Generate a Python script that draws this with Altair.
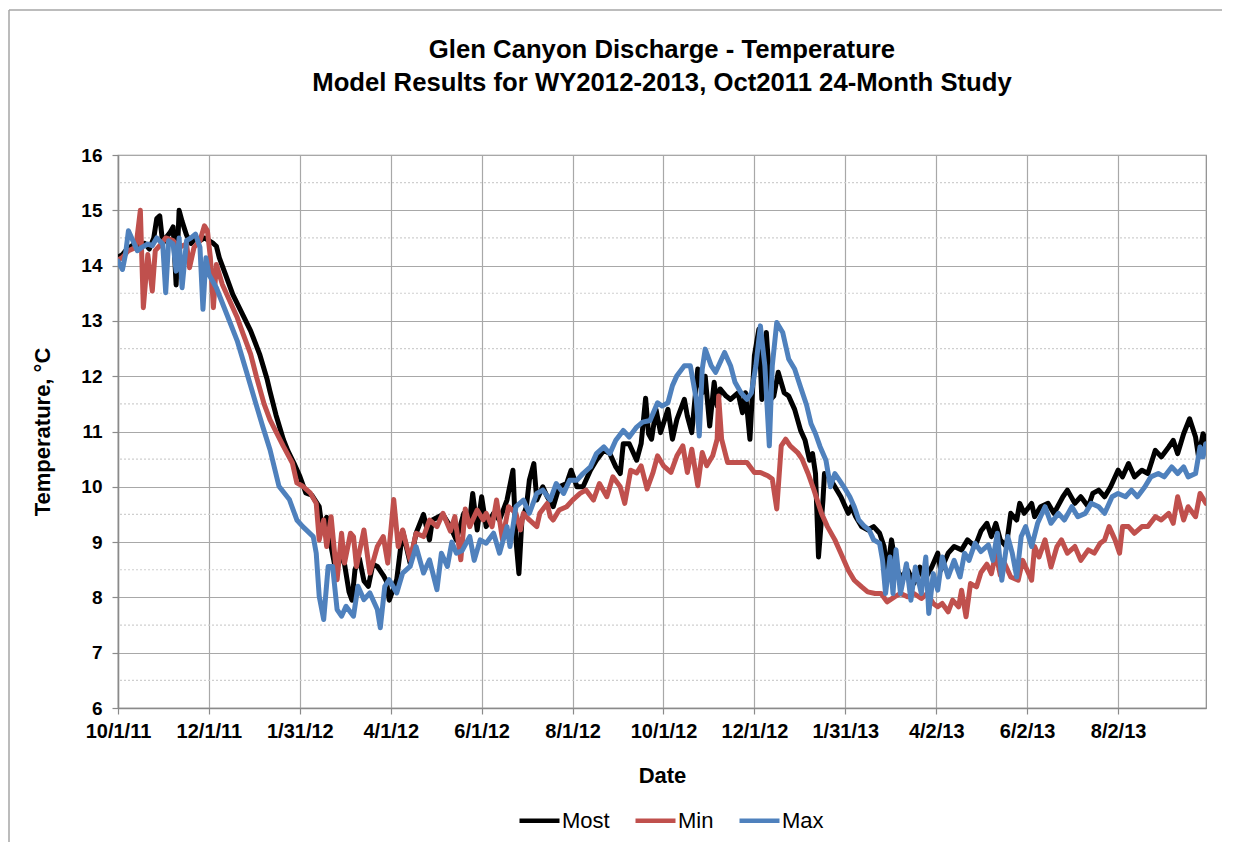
import altair as alt
import pandas as pd

TITLE_LINES = ["Glen Canyon Discharge - Temperature",
               "Model Results for WY2012-2013, Oct2011 24-Month Study"]
SERIES = ["Most", "Min", "Max"]
COLORS = ["#000000", "#C0504D", "#4F81BD"]
START = "2011-10-01"
END = "2013-09-30"
TICK_DATES = ["2011-10-01", "2011-12-01", "2012-01-31", "2012-04-01", "2012-06-01",
              "2012-08-01", "2012-10-01", "2012-12-01", "2013-01-31", "2013-04-02",
              "2013-06-02", "2013-08-02"]
Y_TICKS = [6, 7, 8, 9, 10, 11, 12, 13, 14, 15, 16]
Y_MINOR = [6.5, 7.5, 8.5, 9.5, 10.5, 11.5, 12.5, 13.5, 14.5, 15.5]

# days after 10/1/11
MOST_DAY = [0, 3, 6, 9, 12, 15, 18, 21, 24, 26,
            28, 30, 32, 35, 37, 39, 41, 43, 46, 49,
            52, 55, 58, 61, 64, 66, 68, 72, 77, 83,
            89, 95, 100, 102, 106, 111, 114, 118, 122, 126,
            130, 135, 137, 140, 143, 146, 149, 152, 155, 157,
            159, 162, 165, 168, 171, 174, 178, 180, 182, 187,
            191, 196, 200, 205, 209, 211, 218, 223, 227, 232,
            236, 238, 241, 244, 247, 252, 256, 261, 265, 267,
            269, 271, 274, 276, 279, 281, 285, 288, 292, 296,
            301, 304, 308, 312, 317, 321, 326, 330, 334, 337,
            339, 343, 348, 351, 354, 356, 358, 361, 364, 369,
            372, 375, 380, 382, 385, 389, 392, 394, 397, 400,
            402, 404, 408, 411, 416, 419, 421, 424, 427, 430,
            432, 435, 438, 440, 443, 447, 450, 454, 458, 461,
            464, 466, 468, 470, 473, 474, 477, 481, 485, 490,
            492, 495, 499, 503, 507, 511, 514, 516, 519, 522,
            525, 530, 534, 538, 541, 546, 550, 552, 557, 561,
            566, 570, 575, 579, 583, 586, 589, 592, 596, 599,
            603, 605, 608, 613, 615, 619, 624, 628, 634, 637,
            642, 646, 651, 654, 658, 662, 666, 671, 674, 678,
            682, 687, 691, 696, 700, 705, 708, 711, 715, 719,
            723, 725, 728, 730]
MOST_TEMP = [14.15, 14.2, 14.3, 14.35, 14.4, 14.3, 14.4, 14.3, 14.5, 14.85,
             14.9, 14.4, 14.5, 14.6, 14.7, 13.65, 15.0, 14.8, 14.55, 14.4,
             14.5, 14.45, 14.5, 14.45, 14.4, 14.35, 14.14, 13.85, 13.48, 13.15,
             12.82, 12.4, 11.95, 11.72, 11.3, 10.85, 10.65, 10.43, 10.19, 9.89,
             9.85, 9.64, 9.25, 9.45, 8.92, 8.5, 8.8, 8.6, 8.1, 7.95,
             8.5, 8.7, 8.3, 8.2, 8.6, 8.56, 8.4, 8.3, 7.95, 8.32,
             9.2, 8.62, 9.16, 9.5, 9.04, 9.4, 9.5, 9.28, 9.04, 9.52,
             9.4, 9.88, 9.22, 9.82, 9.28, 9.52, 9.4, 9.76, 10.3, 9.04,
             8.43, 9.4, 9.64, 10.12, 10.42, 9.76, 10.0, 9.82, 9.64, 10.0,
             10.06, 10.3, 10.0, 10.0, 10.3, 10.48, 10.66, 10.6, 10.36, 10.24,
             10.78, 10.78, 10.48, 10.78, 11.6, 10.96, 10.86, 11.4, 10.98, 11.4,
             10.86, 11.22, 11.58, 11.28, 10.98, 12.13, 11.7, 12.0, 11.1, 11.89,
             11.46, 11.77, 11.64, 11.58, 11.7, 11.34, 11.7, 10.86, 12.37, 12.85,
             11.58, 12.79, 11.58, 11.64, 12.07, 11.7, 11.64, 11.4, 11.02, 10.84,
             10.48, 10.6, 10.24, 8.73, 9.76, 10.24, 10.18, 10.0, 9.82, 9.52,
             9.64, 9.46, 9.28, 9.22, 9.28, 9.16, 8.92, 8.43, 9.04, 8.55,
             8.37, 8.49, 8.25, 8.55, 8.31, 8.55, 8.8, 8.49, 8.8, 8.92,
             8.86, 9.04, 8.92, 9.2, 9.34, 9.1, 9.34, 9.04, 8.92, 9.52,
             9.4, 9.7, 9.52, 9.7, 9.46, 9.64, 9.7, 9.52, 9.82, 9.94,
             9.7, 9.82, 9.64, 9.88, 9.94, 9.82, 10.0, 10.3, 10.18, 10.42,
             10.18, 10.3, 10.24, 10.66, 10.54, 10.72, 10.84, 10.6, 10.96, 11.23,
             10.9, 10.54, 10.96, 10.84]

MIN_DAY = [0, 3, 7, 12, 15, 17, 20, 23, 25, 29,
           32, 37, 41, 46, 48, 51, 55, 58, 60, 62,
           64, 66, 70, 75, 80, 84, 89, 93, 98, 102,
           111, 117, 120, 124, 129, 133, 135, 138, 140, 143,
           147, 150, 152, 156, 158, 160, 165, 169, 174, 178,
           181, 185, 188, 191, 196, 200, 205, 209, 214, 218,
           223, 226, 230, 233, 236, 241, 245, 247, 251, 254,
           258, 262, 267, 270, 272, 276, 281, 283, 288, 290,
           292, 296, 301, 305, 310, 314, 319, 323, 328, 332,
           337, 340, 344, 348, 351, 355, 359, 362, 366, 371,
           375, 379, 382, 385, 389, 392, 395, 399, 402, 403,
           405, 409, 413, 418, 422, 427, 431, 436, 439, 442,
           445, 448, 451, 456, 459, 463, 467, 472, 476, 481,
           485, 490, 494, 499, 503, 508, 512, 516, 521, 525,
           530, 534, 539, 543, 547, 550, 553, 557, 560, 564,
           566, 569, 572, 576, 579, 583, 586, 589, 592, 595,
           599, 604, 607, 610, 613, 615, 618, 622, 626, 630,
           633, 637, 642, 646, 651, 655, 659, 662, 665, 669,
           672, 674, 678, 682, 687, 691, 696, 700, 705, 708,
           711, 715, 718, 723, 726, 730]
MIN_TEMP = [14.1, 14.15, 14.27, 14.33, 15.0, 13.24, 14.2, 13.54, 14.27, 14.39,
            14.5, 14.45, 14.33, 14.39, 13.96, 14.33, 14.45, 14.72, 14.63, 14.14,
            13.24, 14.02, 13.66, 13.36, 13.06, 12.76, 12.4, 11.98, 11.5, 11.21,
            10.73, 10.43, 10.07, 10.01, 9.89, 9.7, 9.04, 9.4, 8.92, 9.46,
            8.32, 9.16, 8.62, 9.16, 9.1, 8.56, 9.22, 8.44, 8.92, 9.1,
            8.62, 9.77, 8.92, 9.22, 8.68, 9.16, 9.1, 9.4, 9.28, 9.52,
            9.2, 9.46, 8.68, 9.6, 9.28, 9.58, 9.4, 9.52, 9.28, 9.76,
            9.04, 9.64, 9.52, 9.22, 9.52, 9.4, 9.28, 9.52, 9.7, 9.46,
            9.4, 9.58, 9.64, 9.76, 9.88, 9.94, 9.76, 10.06, 9.82, 10.18,
            10.0, 9.7, 10.3, 10.25, 10.38, 9.96, 10.26, 10.56, 10.38, 10.26,
            10.56, 10.74, 10.26, 10.68, 10.02, 10.62, 10.38, 10.56, 10.86, 11.64,
            10.86, 10.44, 10.44, 10.44, 10.44, 10.26, 10.26, 10.2, 10.14, 9.6,
            10.74, 10.86, 10.74, 10.62, 10.5, 10.24, 9.94, 9.52, 9.28, 9.04,
            8.8, 8.49, 8.31, 8.19, 8.1, 8.07, 8.07, 7.92, 8.01, 8.07,
            8.01, 8.07, 7.98, 8.07, 7.89, 7.83, 7.89, 7.74, 7.95, 7.83,
            8.13, 7.65, 8.25, 8.19, 8.45, 8.6, 8.43, 8.8, 8.4, 8.61,
            8.37, 8.31, 8.67, 8.49, 8.31, 8.92, 8.73, 9.04, 8.55, 8.92,
            9.04, 8.8, 8.92, 8.67, 8.86, 8.8, 8.98, 9.04, 9.28, 9.04,
            8.8, 9.28, 9.28, 9.16, 9.28, 9.28, 9.46, 9.4, 9.52, 9.34,
            9.82, 9.4, 9.64, 9.46, 9.88, 9.7]

MAX_DAY = [0, 3, 5, 7, 10, 13, 16, 20, 23, 26,
           30, 32, 34, 37, 39, 41, 43, 46, 49, 52,
           55, 57, 59, 61, 66, 73, 80, 86, 92, 97,
           102, 108, 115, 120, 124, 131, 133, 135, 138, 141,
           144, 147, 150, 153, 158, 161, 165, 169, 174, 176,
           179, 182, 187, 191, 196, 200, 205, 209, 214, 217,
           221, 224, 227, 231, 236, 239, 243, 247, 252, 256,
           261, 263, 267, 272, 276, 281, 285, 290, 294, 299,
           303, 308, 312, 317, 321, 326, 330, 334, 339, 343,
           348, 352, 357, 362, 365, 369, 372, 375, 380, 384,
           388, 390, 392, 394, 398, 401, 404, 407, 411, 414,
           418, 422, 425, 428, 431, 434, 437, 439, 442, 446,
           450, 454, 458, 462, 465, 468, 471, 475, 478, 481,
           484, 487, 491, 494, 497, 501, 504, 507, 511, 513,
           515, 518, 520, 522, 525, 529, 532, 535, 539, 542,
           544, 547, 550, 553, 557, 561, 565, 568, 571, 575,
           579, 584, 587, 590, 593, 597, 600, 603, 606, 609,
           613, 617, 622, 626, 631, 635, 640, 644, 649, 653,
           658, 662, 667, 671, 676, 680, 684, 689, 693, 698,
           702, 707, 711, 715, 718, 723, 726, 728, 730]
MAX_TEMP = [14.08, 13.93, 14.2, 14.63, 14.45, 14.27, 14.33, 14.39, 14.36, 14.5,
            14.39, 13.51, 14.45, 14.39, 13.9, 14.5, 13.6, 14.45, 14.5, 14.57,
            14.33, 13.21, 14.14, 13.84, 13.6, 13.12, 12.64, 12.1, 11.55, 11.1,
            10.67, 10.01, 9.77, 9.4, 9.28, 9.1, 8.8, 8.02, 7.6, 8.56,
            8.56, 7.78, 7.66, 7.84, 7.66, 8.2, 7.96, 8.08, 7.78, 7.45,
            8.2, 8.32, 8.08, 8.44, 8.56, 8.92, 8.44, 8.68, 8.14, 8.8,
            8.56, 9.0, 8.8, 8.85, 9.1, 8.67, 9.04, 8.98, 9.16, 8.8,
            9.28, 8.92, 9.64, 9.76, 9.52, 9.88, 9.94, 9.76, 10.06, 9.88,
            10.12, 10.12, 10.24, 10.36, 10.6, 10.72, 10.6, 10.84, 11.02, 10.9,
            11.08, 11.17, 11.2, 11.52, 11.46, 11.52, 11.83, 12.01, 12.19, 12.19,
            11.58, 10.92, 12.13, 12.49, 12.19, 12.07, 12.25, 12.43, 12.19, 11.89,
            11.7, 11.58, 11.7, 12.19, 12.91, 12.19, 10.74, 12.19, 12.97, 12.79,
            12.31, 12.13, 11.8, 11.48, 11.14, 10.96, 10.73, 10.48, 10.0, 10.24,
            10.12, 10.0, 9.82, 9.64, 9.4, 9.28, 9.22, 9.04, 8.98, 8.67,
            8.07, 8.73, 8.07, 8.86, 8.07, 8.61, 7.95, 8.55, 8.07, 8.73,
            7.71, 8.43, 8.13, 8.73, 8.37, 8.67, 8.37, 8.8, 8.67, 8.98,
            8.83, 8.95, 8.67, 9.16, 8.31, 9.1, 8.8, 8.37, 9.1, 9.28,
            8.92, 9.34, 9.64, 9.34, 9.52, 9.4, 9.64, 9.46, 9.52, 9.7,
            9.64, 9.52, 9.82, 9.88, 9.82, 9.94, 9.82, 10.0, 10.18, 10.24,
            10.18, 10.36, 10.24, 10.36, 10.18, 10.24, 10.72, 10.54, 10.78]

FONT = "Liberation Sans"
AXIS_GRAY = "#8a8a8a"
GRID_GRAY = "#a8a8a8"
MINOR_GRAY = "#cfcfcf"
FRAME_GRAY = "#a6a6a6"


def ms(s):
    return int(pd.Timestamp(s, tz="UTC").timestamp() * 1000)


def series_frame(days, temps, name):
    assert len(days) == len(temps), name
    dates = (pd.Timestamp(START) + pd.to_timedelta(days, unit="D")).strftime("%Y-%m-%d")
    return pd.DataFrame({"date": list(dates), "temp": temps, "series": name})


data = pd.concat([
    series_frame(MOST_DAY, MOST_TEMP, SERIES[0]),
    series_frame(MIN_DAY, MIN_TEMP, SERIES[1]),
    series_frame(MAX_DAY, MAX_TEMP, SERIES[2]),
], ignore_index=True)

x_enc = alt.X(
    "date:T",
    scale=alt.Scale(type="utc", domain=[ms(START), ms(END)], nice=False),
    axis=alt.Axis(
        values=[ms(d) for d in TICK_DATES],
        labelExpr="utcFormat(datum.value, '%-m/%-d/%y')",
        title="Date", grid=True, gridColor=GRID_GRAY, gridWidth=1.2,
        tickSize=6, labelPadding=7, titlePadding=24,
        labelFontSize=20, labelFontWeight="bold", labelAngle=0,
        labelFlush=False, labelOverlap=False,
        titleFontSize=22, titleFontWeight="bold",
    ),
)
y_enc = alt.Y(
    "temp:Q",
    scale=alt.Scale(domain=[6, 16], nice=False, zero=False),
    axis=alt.Axis(
        values=Y_TICKS, title="Temperature, °C", grid=True,
        gridColor=GRID_GRAY, gridWidth=1.2, tickSize=6, labelPadding=10,
        titlePadding=26, labelFontSize=19, labelFontWeight="bold",
        titleFontSize=22, titleFontWeight="bold",
    ),
)

# outer chart-area frame (decoration only): top edge and left edge
frame_df = pd.DataFrame({"k": [0]})
frame_top = alt.Chart(frame_df).mark_rule(color=FRAME_GRAY, strokeWidth=1.5).encode(
    x=alt.value(-109), x2=alt.value(1104), y=alt.value(-145)
)
frame_left = alt.Chart(frame_df).mark_rule(color=FRAME_GRAY, strokeWidth=1.5).encode(
    x=alt.value(-109), y=alt.value(-145), y2=alt.value(760)
)

minor = alt.Chart(pd.DataFrame({"temp": Y_MINOR})).mark_rule(
    color=MINOR_GRAY, strokeDash=[2, 2], strokeWidth=1.2
).encode(y=y_enc)

lines = alt.Chart(data).mark_line(
    strokeWidth=5, strokeJoin="round", strokeCap="round", clip=True
).encode(
    x=x_enc,
    y=y_enc,
    color=alt.Color(
        "series:N",
        scale=alt.Scale(domain=SERIES, range=COLORS),
        title=None,
        legend=alt.Legend(
            orient="none", legendX=399, legendY=643, direction="horizontal",
            symbolType="stroke", symbolSize=1600, symbolStrokeWidth=4.5,
            labelFontSize=22, labelFont=FONT, labelColor="#000000",
            labelOffset=0, columnPadding=16,
        ),
    ),
)

# the frame rules extend the content bounds up to y=-145.75, so the title
# offset is measured from there
chart = alt.layer(frame_top, frame_left, minor, lines).properties(
    width=1088,
    height=553,
    title=alt.TitleParams(
        TITLE_LINES, fontSize=25.7, fontWeight="bold", font=FONT, color="#000000",
        anchor="middle", frame="group", offset=-87, lineHeight=33,
    ),
    autosize=alt.AutoSizeParams(type="none"),
    padding={"left": 110, "top": 147, "right": 24, "bottom": 134},
).configure_view(
    stroke=AXIS_GRAY, strokeWidth=1.2
).configure_axis(
    domainColor=AXIS_GRAY, tickColor=AXIS_GRAY, domainWidth=1.5, tickWidth=1.2,
    labelFont=FONT, titleFont=FONT, labelColor="#000000", titleColor="#000000",
)

chart.save("out.html", embed_options={"renderer": "svg", "actions": False})
